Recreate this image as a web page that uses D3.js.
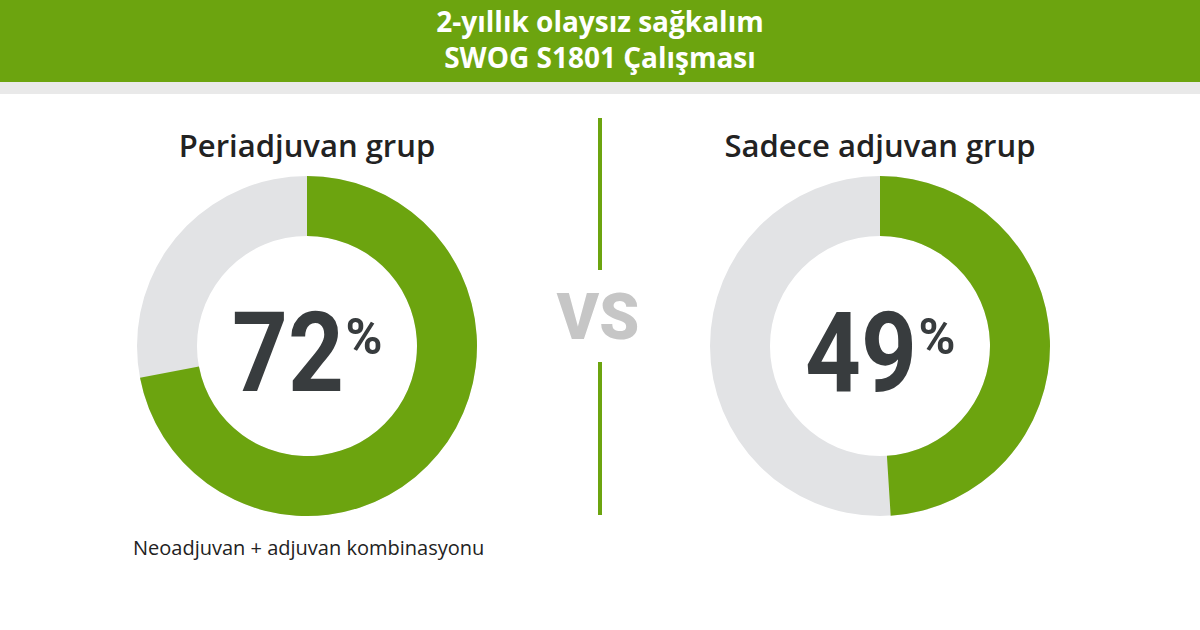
<!DOCTYPE html>
<html><head><meta charset="utf-8">
<script src="https://cdn.jsdelivr.net/npm/d3@7/dist/d3.min.js"></script>
<style>body{margin:0;background:#fff}</style></head>
<body><svg id="c" width="1200" height="630"></svg>
<script>
const titleLines = ["2-yıllık olaysız sağkalım", "SWOG S1801 Çalışması"];
const groups = ["Periadjuvan grup", "Sadece adjuvan grup"];
const values = [72, 49];
const note = "Neoadjuvan + adjuvan kombinasyonu";

const svg = d3.select("#c");
const green = "#6ca40f", gray = "#e2e3e5", dark = "#383c3e";
const font = "'Open Sans', 'Noto Sans', sans-serif";
svg.append("rect").attr("width",1200).attr("height",82).attr("fill",green);
svg.append("rect").attr("y",82).attr("width",1200).attr("height",12).attr("fill","#e9e9e9");
titleLines.forEach((t,i)=>svg.append("text").attr("x",600).attr("y",32+i*36).attr("text-anchor","middle")
  .attr("fill","#fff").attr("font-family",font).attr("font-weight",700).attr("font-size",28).text(t));

const xs = d3.scalePoint().domain(groups).range([307,880]);
const ang = d3.scaleLinear().domain([0,100]).range([0,2*Math.PI]);
const arc = d3.arc().innerRadius(110).outerRadius(170);
groups.forEach((g,i)=>{
  const cx = xs(g), cy = 346;
  const gg = svg.append("g").attr("transform",`translate(${cx},${cy})`);
  gg.append("path").attr("d",arc({startAngle:0,endAngle:2*Math.PI})).attr("fill",gray);
  gg.append("path").attr("d",arc({startAngle:0,endAngle:ang(values[i])})).attr("fill",green);
  svg.append("text").attr("x",cx).attr("y",157).attr("text-anchor","middle").attr("fill","#222")
    .attr("font-family",font).attr("font-weight",600).attr("font-size",31).text(g);
  gg.append("text").attr("x",-19).attr("y",45).attr("text-anchor","middle").attr("fill",dark)
    .attr("font-family","Roboto, sans-serif").attr("font-weight",700).attr("font-size",112)
    .attr("textLength",112).attr("lengthAdjust","spacingAndGlyphs").text(values[i]);
  gg.append("text").attr("x",57).attr("y",8).attr("text-anchor","middle").attr("fill",dark)
    .attr("font-family","Roboto, sans-serif").attr("font-weight",700).attr("font-size",50).text("%");
});
svg.append("text").attr("x",598).attr("y",339).attr("text-anchor","middle").attr("fill","#c6c6c6")
  .attr("font-family","Roboto, sans-serif").attr("font-weight",900).attr("font-size",64).text("VS");
svg.append("line").attr("x1",600).attr("x2",600).attr("y1",118).attr("y2",270).attr("stroke",green).attr("stroke-width",4);
svg.append("line").attr("x1",600).attr("x2",600).attr("y1",362).attr("y2",515).attr("stroke",green).attr("stroke-width",4);
svg.append("text").attr("x",133).attr("y",555).attr("fill","#222").attr("font-family",font).attr("font-size",20).text(note);
</script></body></html>
